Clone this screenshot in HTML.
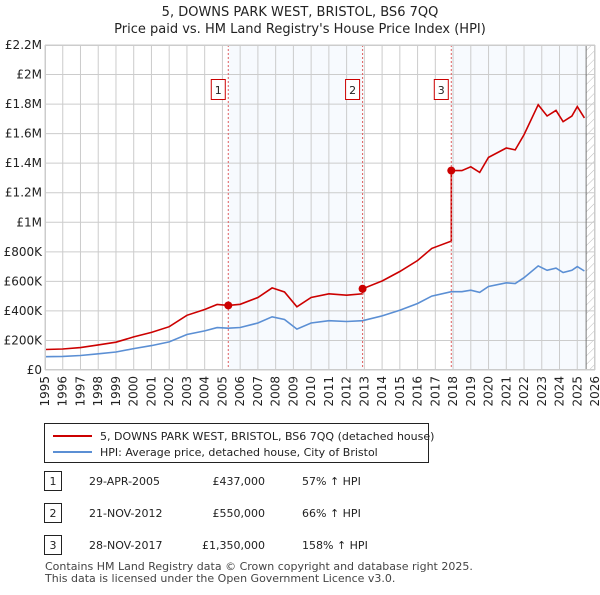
<!DOCTYPE html>
<html><head><meta charset="utf-8"><style>
body{margin:0;background:#fff;font-family:"Liberation Sans","DejaVu Sans",sans-serif;}
svg text{font-family:"DejaVu Sans","Liberation Sans",sans-serif;}
</style></head><body>
<svg width="600" height="590" xmlns="http://www.w3.org/2000/svg" id="svg">
<text x="300" y="16" font-size="13" text-anchor="middle" fill="#222">5, DOWNS PARK WEST, BRISTOL, BS6 7QQ</text>
<text x="300" y="33" font-size="13" text-anchor="middle" fill="#222">Price paid vs. HM Land Registry's House Price Index (HPI)</text>
<defs><pattern id="hatch" width="6" height="6" patternUnits="userSpaceOnUse" patternTransform="rotate(45)"><line x1="0" y1="0" x2="0" y2="6" stroke="#bbb" stroke-width="1"/></pattern></defs>
<g id="plot"></g>
<rect x="44.5" y="423.5" width="384" height="39" fill="#fff" stroke="#222"/>
<line x1="53" y1="436" x2="92" y2="436" stroke="#cc0000" stroke-width="2"/>
<text x="100" y="440" font-size="11" fill="#222">5, DOWNS PARK WEST, BRISTOL, BS6 7QQ (detached house)</text>
<line x1="53" y1="452" x2="92" y2="452" stroke="#5b8fd4" stroke-width="2"/>
<text x="100" y="456" font-size="11" fill="#222">HPI: Average price, detached house, City of Bristol</text>
<g id="tbl" font-size="11" fill="#222"></g>
<text x="45" y="570" font-size="11" fill="#444">Contains HM Land Registry data © Crown copyright and database right 2025.</text>
<text x="45" y="582" font-size="11" fill="#444">This data is licensed under the Open Government Licence v3.0.</text>
</svg>
<script>
const hpiYears=[1995,1996,1997,1998,1999,2000,2001,2002,2003,2004,2004.7,2005.33,2006,2007,2007.8,2008.5,2009.2,2010,2011,2012,2012.9,2014,2015,2016,2016.8,2017.9,2018.5,2019,2019.5,2020,2021,2021.5,2022,2022.8,2023.3,2023.8,2024.2,2024.7,2025,2025.4];
const hpiValues=[90000,92000,98000,110000,122000,145000,165000,190000,240000,265000,287000,283000,288000,318000,360000,342000,277000,318000,334000,328000,334000,366000,405000,450000,500000,530000,530000,540000,525000,565000,590000,585000,625000,705000,675000,690000,660000,675000,700000,670000];
const saleYears=[2005.33,2012.9,2017.9];
const salePrices=[437000,550000,1350000];
const saleDates=["29-APR-2005","21-NOV-2012","28-NOV-2017"];
const salePriceLabels=["£437,000","£550,000","£1,350,000"];
const saleHpiLabels=["57% ↑ HPI","66% ↑ HPI","158% ↑ HPI"];
const yTicks=[0,200000,400000,600000,800000,1000000,1200000,1400000,1600000,1800000,2000000,2200000];
const yTickLabels=["£0","£200K","£400K","£600K","£800K","£1M","£1.2M","£1.4M","£1.6M","£1.8M","£2M","£2.2M"];
const NS="http://www.w3.org/2000/svg";
const X0=45,X1=595,Y0=370,Y1=45;
const xs=y=>X0+(y-1995)/(2026-1995)*(X1-X0);
const ys=v=>Y0-v/2200000*(Y0-Y1);
const g=document.getElementById('plot');
function mk(t,a,p){const e=document.createElementNS(NS,t);for(const k in a)e.setAttribute(k,a[k]);(p||g).appendChild(e);return e;}
function hpiAt(y){for(let i=0;i<hpiYears.length-1;i++){if(y<=hpiYears[i+1]){const t=(y-hpiYears[i])/(hpiYears[i+1]-hpiYears[i]);return hpiValues[i]+t*(hpiValues[i+1]-hpiValues[i]);}}return hpiValues[hpiValues.length-1];}
const endYear=2025.5;
let r=mk('rect',{x:xs(saleYears[0]),y:Y1,width:xs(saleYears[1])-xs(saleYears[0]),height:Y0-Y1,fill:'#eef3fc',opacity:0.45});

r=mk('rect',{x:xs(saleYears[2]),y:Y1,width:xs(endYear)-xs(saleYears[2]),height:Y0-Y1,fill:'#eef3fc',opacity:0.45});

r=mk('rect',{x:xs(endYear),y:Y1,width:X1-xs(endYear),height:Y0-Y1,fill:'url(#hatch)'});

for(let yr=1995;yr<=2026;yr++){
 const l=mk('line',{x1:xs(yr),x2:xs(yr),y1:Y1,y2:Y0,stroke:'#ccc','stroke-width':1});
 
 const t=mk('text',{x:0,y:0,'font-size':12,fill:'#222','text-anchor':'end',transform:`translate(${xs(yr)+4},${Y0+6}) rotate(-90)`});
 t.textContent=yr;
}
yTicks.forEach((v,i)=>{
 const l=mk('line',{x1:X0,x2:X1,y1:ys(v),y2:ys(v),stroke:'#ccc','stroke-width':1});
 
 const t=mk('text',{x:X0-3,y:ys(v)+4,'font-size':12,fill:'#222','text-anchor':'end'});
 t.textContent=yTickLabels[i];
});
const ln=mk('line',{x1:xs(endYear),x2:xs(endYear),y1:Y1,y2:Y0,stroke:'#777','stroke-width':1});

let d=hpiYears.map((y,i)=>(i?'L':'M')+xs(y).toFixed(1)+','+ys(hpiValues[i]).toFixed(1)).join('');
let p=mk('path',{d:d,fill:'none',stroke:'#5b8fd4','stroke-width':1.6});

const ratios=saleYears.map((s,i)=>salePrices[i]/hpiAt(s));
function ratioAt(y){let k=0;for(let i=0;i<saleYears.length;i++)if(y>=saleYears[i])k=i;return ratios[k];}
let pts=[];
hpiYears.forEach((y,i)=>{pts.push([y,hpiValues[i]*ratioAt(y)]);});
saleYears.forEach((s,i)=>{const h=hpiAt(s);pts.push([s-0.001,h*(i?ratios[i-1]:ratios[0])]);pts.push([s,salePrices[i]]);});
pts.sort((a,b)=>a[0]-b[0]);
d=pts.map((q,i)=>(i?'L':'M')+xs(q[0]).toFixed(1)+','+ys(q[1]).toFixed(1)).join('');
p=mk('path',{d:d,fill:'none',stroke:'#cc0000','stroke-width':1.6});

saleYears.forEach((s,i)=>{
 const l=mk('line',{x1:xs(s),x2:xs(s),y1:Y1,y2:Y0,stroke:'#e06060','stroke-width':1,'stroke-dasharray':'2,2'});
 
 const c=mk('circle',{cx:xs(s),cy:ys(salePrices[i]),r:4,fill:'#cc0000'});
 
 const b=mk('rect',{x:xs(s)-17,y:79.5,width:14,height:20,fill:'#fff',stroke:'#cc0000'});
 
 const t=mk('text',{x:xs(s)-10,y:94,'font-size':11,fill:'#222','text-anchor':'middle'});
 t.textContent=i+1;
});
const f=mk('rect',{x:X0+0.5,y:Y1+0.5,width:X1-X0-1,height:Y0-Y1-1,fill:'none',stroke:'#ccc'});

const tb=document.getElementById('tbl');
saleYears.forEach((s,i)=>{
 const cy=481+i*32;
 const b=mk('rect',{x:44.5,y:cy-9.5,width:17,height:19,fill:'#fff',stroke:'#222'},tb);
 
 const cells=[[53,i+1,'middle'],[89,saleDates[i],'start'],[265,salePriceLabels[i],'end'],[302,saleHpiLabels[i],'start']];
 cells.forEach(c=>{const t=mk('text',{x:c[0],y:cy+4,'text-anchor':c[2]},tb);t.textContent=c[1];
  });
});
</script>
</body></html>
